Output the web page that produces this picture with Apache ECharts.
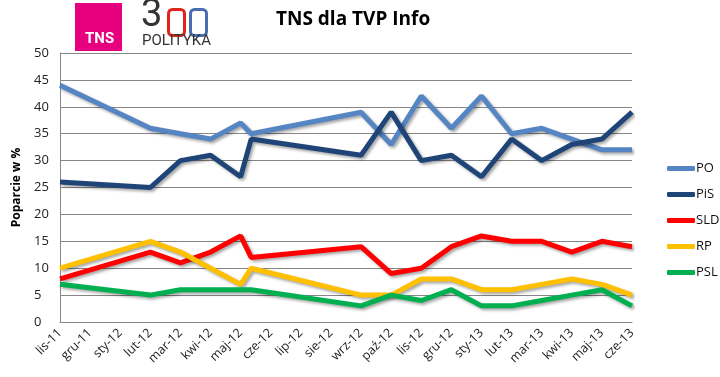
<!DOCTYPE html>
<html>
<head>
<meta charset="utf-8">
<script src="https://cdn.jsdelivr.net/npm/echarts@6/dist/echarts.min.js"></script>
<style>
  html, body { margin: 0; padding: 0; background: #fff; }
  #chart { width: 720px; height: 377px; }
</style>
</head>
<body>
<div id="chart"></div>
<script>
  // miesiace na osi
  var months = ['lis-11','gru-11','sty-12','lut-12','mar-12','kwi-12','maj-12','cze-12','lip-12','sie-12',
    'wrz-12','paź-12','lis-12','gru-12','sty-13','lut-13','mar-13','kwi-13','maj-13','cze-13'];
  // pozycje sondazy (indeks miesiaca)
  var pollX = [0, 3, 4, 5, 6, 6.35, 10, 11, 12, 13, 14, 15, 16, 17, 18, 19];
  var PO  = [44, 36, 35, 34, 37, 35, 39, 33, 42, 36, 42, 35, 36, 34, 32, 32];
  var PiS = [26, 25, 30, 31, 27, 34, 31, 39, 30, 31, 27, 34, 30, 33, 34, 39];
  var SLD = [8, 13, 11, 13, 16, 12, 14, 9, 10, 14, 16, 15, 15, 13, 15, 14];
  var RP  = [10, 15, 13, 10, 7, 10, 5, 5, 8, 8, 6, 6, 7, 8, 7, 5];
  var PSL = [7, 5, 6, 6, 6, 6, 3, 5, 4, 6, 3, 3, 4, 5, 6, 3];
  var yTicks = [0, 5, 10, 15, 20, 25, 30, 35, 40, 45, 50];

  function pairs(vals) {
    return vals.map(function (v, i) { return [pollX[i], v]; });
  }

  function mkLine(name, vals, color) {
    return {
      name: name,
      type: 'line',
      data: pairs(vals),
      symbol: 'none',
      smooth: false,
      lineStyle: {
        width: 5,
        color: color,
        shadowColor: 'rgba(0,0,0,0.35)',
        shadowBlur: 3,
        shadowOffsetX: 2,
        shadowOffsetY: 2
      },
      itemStyle: { color: color }
    };
  }

  var myChart = echarts.init(document.getElementById('chart'));
  var option = {
    backgroundColor: '#fff',
    animation: false,
    textStyle: { fontFamily: 'Open Sans, DejaVu Sans, sans-serif' },
    grid: { left: 60, right: 88, top: 53, bottom: 55 },
    legend: {
      orient: 'vertical',
      left: 662,
      top: 157,
      itemGap: 13,
      itemWidth: 28,
      itemHeight: 5,
      icon: 'roundRect',
      data: ['PO', 'PiS', 'SLD', 'RP', 'PSL'],
      textStyle: { fontSize: 13, color: '#111', padding: [0, 0, 0, -4] }
    },
    xAxis: {
      type: 'value',
      min: 0,
      max: 19,
      interval: 1,
      axisLine: { show: true, lineStyle: { color: '#868686', width: 1 } },
      axisTick: { show: false },
      splitLine: { show: false },
      axisLabel: {
        rotate: 45,
        fontSize: 12.5,
        color: '#222',
        margin: 9,
        formatter: function (v) { return months[Math.round(v)] || ''; }
      }
    },
    yAxis: {
      type: 'value',
      min: yTicks[0],
      max: yTicks[yTicks.length - 1],
      interval: 5,
      name: 'Poparcie w %',
      nameLocation: 'middle',
      nameGap: 37,
      nameTextStyle: { fontSize: 12, fontWeight: 'bold', color: '#000' },
      axisLine: { show: true, lineStyle: { color: '#868686', width: 1 } },
      axisTick: { show: false },
      axisLabel: { fontSize: 13, color: '#222', margin: 26, align: 'left' },
      splitLine: { lineStyle: { color: '#868686', width: 1 } }
    },
    graphic: [
      // logo TNS
      { type: 'rect', left: 75, top: 3, shape: { width: 47, height: 48 }, style: { fill: '#e6007e' } },
      { type: 'text', left: 85, top: 32, style: { text: 'TNS', fill: '#fff', font: 'bold 15px Roboto, sans-serif' } },
      // logo 300 POLITYKA
      { type: 'text', left: 141, top: -3, style: { text: '3', fill: '#333', font: '38px Roboto, sans-serif' } },
      { type: 'rect', left: 166, top: 7, shape: { width: 16, height: 26, r: 4 }, style: { fill: 'none', stroke: '#e1251b', lineWidth: 3 } },
      { type: 'rect', left: 188, top: 7, shape: { width: 16, height: 26, r: 4 }, style: { fill: 'none', stroke: '#4a6cb3', lineWidth: 3 } },
      { type: 'text', left: 142, top: 34, style: { text: 'POLITYKA', fill: '#333', font: '15px Roboto, sans-serif' } },
      // tytul
      { type: 'text', left: 276, top: 10, style: { text: 'TNS dla TVP Info', fill: '#000', font: 'bold 19px "Open Sans", sans-serif' } }
    ],
    series: [
      mkLine('PO', PO, '#5685c4'),
      mkLine('PiS', PiS, '#1f4578'),
      mkLine('SLD', SLD, '#ff0000'),
      mkLine('RP', RP, '#ffc000'),
      mkLine('PSL', PSL, '#00b050')
    ]
  };
  myChart.setOption(option);
</script>
</body>
</html>
